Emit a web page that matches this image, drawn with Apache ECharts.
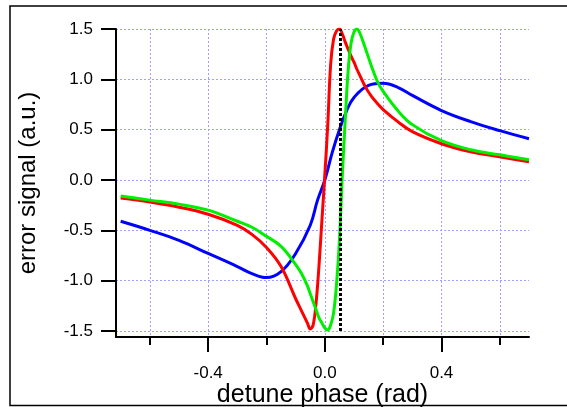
<!DOCTYPE html>
<html>
<head>
<meta charset="utf-8">
<script src="https://cdn.jsdelivr.net/npm/echarts@6/dist/echarts.min.js"></script>
<style>
html, body { margin: 0; padding: 0; background: #fff; }
#chart { width: 567px; height: 407px; }
</style>
</head>
<body>
<div id="chart"></div>
<script>
// values
var redX = [-0.7, -0.6, -0.5, -0.4, -0.3, -0.25, -0.2, -0.15, -0.1, -0.08, -0.06, -0.05, -0.04, -0.03, -0.02, -0.01, 0, 0.01, 0.02, 0.03, 0.04, 0.05, 0.06, 0.07, 0.08, 0.09, 0.1, 0.11, 0.12, 0.14, 0.16, 0.18, 0.2, 0.25, 0.3, 0.4, 0.5, 0.6, 0.7];
var redY = [-0.18, -0.22, -0.27, -0.34, -0.45, -0.54, -0.67, -0.86, -1.18, -1.30, -1.42, -1.48, -1.44, -1.22, -0.85, -0.40, 0.05, 0.55, 1.15, 1.40, 1.48, 1.50, 1.45, 1.37, 1.30, 1.23, 1.17, 1.10, 1.04, 0.92, 0.83, 0.76, 0.70, 0.58, 0.48, 0.36, 0.28, 0.23, 0.18];

var greenX = [-0.7, -0.6, -0.5, -0.4, -0.3, -0.25, -0.2, -0.15, -0.1, -0.08, -0.06, -0.05, -0.04, -0.03, -0.02, -0.01, 0, 0.01, 0.02, 0.03, 0.04, 0.05, 0.06, 0.07, 0.08, 0.09, 0.1, 0.11, 0.12, 0.14, 0.16, 0.18, 0.2, 0.25, 0.3, 0.4, 0.5, 0.6, 0.7];
var greenY = [-0.16, -0.20, -0.24, -0.30, -0.41, -0.47, -0.56, -0.66, -0.84, -0.93, -1.05, -1.13, -1.21, -1.29, -1.37, -1.42, -1.47, -1.49, -1.44, -1.32, -1.04, -0.60, 0.05, 0.60, 1.09, 1.36, 1.47, 1.50, 1.46, 1.30, 1.13, 0.98, 0.88, 0.69, 0.55, 0.39, 0.30, 0.25, 0.20];

var blueX = [-0.7, -0.6, -0.5, -0.4, -0.3, -0.25, -0.2, -0.15, -0.1, -0.05, -0.025, 0, 0.025, 0.05, 0.075, 0.1, 0.15, 0.2, 0.25, 0.3, 0.4, 0.5, 0.6, 0.7];
var blueY = [-0.41, -0.50, -0.60, -0.73, -0.86, -0.93, -0.97, -0.91, -0.73, -0.45, -0.20, 0.0, 0.27, 0.50, 0.69, 0.82, 0.94, 0.96, 0.92, 0.84, 0.69, 0.58, 0.49, 0.41];

var lockPhase = 0.052;
var majorTicksX = [-0.4, 0, 0.4];
var minorTicksX = [-0.6, -0.2, 0.2, 0.6];
var ticksY = [-1.5, -1.0, -0.5, 0, 0.5, 1.0, 1.5];

var font = 'Liberation Sans, Arial, Helvetica, sans-serif';
var gridLine = { show: true, lineStyle: { color: '#a0a0ff', width: 1, type: [2, 2] } };

function zip(xs, ys) {
    var out = [];
    xs.forEach(function (x, i) { out.push([x, ys[i]]); });
    return out;
}

function curve(name, color, xs, ys) {
    return {
        name: name,
        type: 'line',
        data: zip(xs, ys),
        showSymbol: false,
        smooth: 0.4,
        lineStyle: { color: color, width: 3 },
        itemStyle: { color: color }
    };
}

var chart = echarts.init(document.getElementById('chart'));
chart.setOption({
    animation: false,
    backgroundColor: '#fff',
    grid: { left: 116, right: 38, top: 29, bottom: 70, containLabel: false, outerBoundsMode: 'none' },
    graphic: [{
        type: 'rect',
        silent: true,
        shape: { x: 10, y: 6, width: 600, height: 399.5 },
        style: { fill: 'none', stroke: '#000', lineWidth: 1.5 }
    }],
    xAxis: [{
        type: 'value',
        min: -0.716,
        max: 0.7,
        position: 'bottom',
        name: 'detune phase (rad)',
        nameLocation: 'middle',
        nameGap: 46,
        nameMoveOverlap: false,
        nameTextStyle: { fontSize: 25, color: '#000', fontFamily: font },
        axisLine: { show: true, onZero: false, lineStyle: { color: '#000', width: 2 } },
        axisTick: { customValues: majorTicksX, length: 15, lineStyle: { color: '#000', width: 2 } },
        axisLabel: {
            customValues: majorTicksX, margin: 28, fontSize: 17, color: '#000', fontFamily: font,
            formatter: function (v) { return v.toFixed(1); }
        },
        splitLine: gridLine
    }, {
        type: 'value',
        min: -0.716,
        max: 0.7,
        position: 'bottom',
        axisLine: { show: false, onZero: false },
        axisTick: { customValues: minorTicksX, length: 8, lineStyle: { color: '#000', width: 2 } },
        axisLabel: { show: false },
        splitLine: gridLine
    }],
    yAxis: {
        type: 'value',
        min: -1.56,
        max: 1.5,
        name: 'error signal (a.u.)',
        nameLocation: 'middle',
        nameGap: 76,
        nameMoveOverlap: false,
        nameTextStyle: { fontSize: 24, color: '#000', fontFamily: font },
        axisLine: { show: true, onZero: false, lineStyle: { color: '#000', width: 2 } },
        axisTick: { customValues: ticksY, length: 15, lineStyle: { color: '#000', width: 2 } },
        axisLabel: {
            customValues: ticksY, margin: 23, fontSize: 17, color: '#000', fontFamily: font,
            formatter: function (v) { return v.toFixed(1); }
        },
        splitLine: gridLine
    },
    series: [
        curve('blue', '#0000ff', blueX, blueY),
        curve('red', '#ff0000', redX, redY),
        {
            name: 'lock',
            type: 'line',
            data: [],
            markLine: {
                silent: true,
                symbol: ['none', 'none'],
                label: { show: false },
                lineStyle: { color: '#000', width: 3, type: [3, 2] },
                data: [[{ coord: [lockPhase, -1.5] }, { coord: [lockPhase, 1.5] }]]
            }
        },
        curve('green', '#00ee00', greenX, greenY)
    ]
});
</script>
</body>
</html>
